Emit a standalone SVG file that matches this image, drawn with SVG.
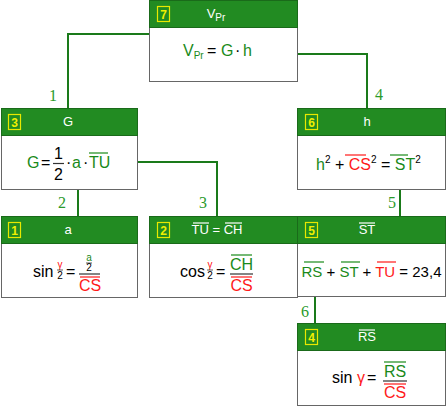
<svg xmlns="http://www.w3.org/2000/svg" width="448" height="407" viewBox="0 0 448 407">
<style>
.body{fill:#fff;stroke:#666;stroke-width:1}
.hdr{fill:#228b22;stroke:#1a6a1a;stroke-width:1}
.badge{fill:none;stroke:#e8e800;stroke-width:1.2}
.bn{font-family:"Liberation Sans",Arial,sans-serif;font-size:12px;font-weight:bold;fill:#f0f000;text-anchor:middle}
.ht{font-family:"Liberation Sans",Arial,sans-serif;font-size:13px;fill:#fff;text-anchor:middle}
.f{font-family:"Liberation Sans",Arial,sans-serif;font-size:16px;fill:#000}
.g{fill:#1a8a1a}
.r{fill:#ff1a1a}
.sm{font-size:10px}
.conn{fill:none;stroke:#1a7a1a;stroke-width:2}
.lbl{font-family:"Liberation Serif","Times New Roman",serif;font-size:16px;fill:#2a9a2a;text-anchor:middle}
.ol{stroke-width:1.2;fill:none}
.olg{stroke:#1a8a1a}
.olr{stroke:#ff1a1a}
.olw{stroke:#fff}
.bar{stroke:#333;stroke-width:1.2}
</style>
<g id="connectors">
<polyline class="conn" points="227,41 227,34 68,34 68,108"/>
<polyline class="conn" points="256,54 367,54 367,108"/>
<polyline class="conn" points="114,162 217,162 217,216"/>
<polyline class="conn" points="78,173 78,216"/>
<polyline class="conn" points="400,177 400,216"/>
<polyline class="conn" points="315,283 315,323"/>
<text class="lbl" x="53" y="101">1</text>
<text class="lbl" x="379" y="100">4</text>
<text class="lbl" x="62" y="208">2</text>
<text class="lbl" x="203" y="208">3</text>
<text class="lbl" x="392" y="208">5</text>
<text class="lbl" x="305" y="317">6</text>
</g>

<g id="node7">
<rect class="body" x="149.5" y="0.5" width="148" height="81"/>
<rect class="hdr" x="149.5" y="0.5" width="148" height="27"/>
<rect class="badge" x="157.5" y="6.5" width="12" height="15"/>
<text class="bn" x="163.5" y="18.5">7</text>
<text class="ht" x="216" y="18">V<tspan class="sm" dy="3">Pr</tspan></text>
<text class="f g" x="183" y="56">V<tspan class="sm" dy="3">Pr</tspan></text>
<text class="f" x="207" y="56">=</text>
<text class="f g" x="221" y="56">G</text>
<text class="f" x="235" y="56">·</text>
<text class="f g" x="243" y="56">h</text>
</g>

<g id="node3">
<rect class="body" x="1.5" y="108.5" width="136" height="81"/>
<rect class="hdr" x="1.5" y="108.5" width="136" height="27"/>
<rect class="badge" x="8.5" y="114.5" width="12" height="15"/>
<text class="bn" x="14.5" y="126.5">3</text>
<text class="ht" x="68" y="126">G</text>
<text class="f g" x="27" y="168">G</text>
<text class="f" x="41" y="168">=</text>
<text class="f" x="58.5" y="159" text-anchor="middle">1</text>
<line class="bar" x1="53" y1="163.5" x2="64" y2="163.5"/>
<text class="f" x="58.5" y="180" text-anchor="middle">2</text>
<text class="f" x="66" y="168">·</text>
<text class="f g" x="72" y="168">a</text>
<text class="f" x="83" y="168">·</text>
<text class="f g" x="89" y="168">TU</text>
<line class="ol olg" x1="89" y1="153" x2="108" y2="153"/>
</g>

<g id="node6">
<rect class="body" x="297.5" y="108.5" width="148" height="81"/>
<rect class="hdr" x="297.5" y="108.5" width="148" height="27"/>
<rect class="badge" x="305.5" y="114.5" width="12" height="15"/>
<text class="bn" x="311.5" y="126.5">6</text>
<text class="ht" x="367" y="126">h</text>
<text class="f" x="316" y="170"><tspan class="g">h</tspan><tspan class="sm" dy="-7">2</tspan><tspan dy="7"> + </tspan><tspan class="r">CS</tspan><tspan class="sm" dy="-7">2</tspan><tspan dy="7"> = </tspan><tspan class="g">ST</tspan><tspan class="sm" dy="-7">2</tspan></text>
<line class="ol olr" x1="345" y1="155" x2="366" y2="155"/>
<line class="ol olg" x1="390" y1="155" x2="408" y2="155"/>
</g>

<g id="node1">
<rect class="body" x="1.5" y="216.5" width="136" height="81"/>
<rect class="hdr" x="1.5" y="216.5" width="136" height="27"/>
<rect class="badge" x="8.5" y="222.5" width="12" height="15"/>
<text class="bn" x="14.5" y="234.5">1</text>
<text class="ht" x="68" y="234">a</text>
<text class="f" x="33" y="277">sin</text>
<text class="f sm r" x="60" y="268" text-anchor="middle">γ</text>
<line class="bar" x1="57" y1="270" x2="63" y2="270" style="stroke-width:0.8"/>
<text class="f sm" x="60" y="279" text-anchor="middle">2</text>
<text class="f" x="66" y="277">=</text>
<text class="f sm g" x="89" y="261" text-anchor="middle">a</text>
<line class="bar" x1="86" y1="263" x2="92" y2="263" style="stroke-width:0.8"/>
<text class="f sm" x="89" y="271" text-anchor="middle">2</text>
<line class="bar" x1="79" y1="274" x2="100" y2="274"/>
<line class="ol olr" x1="80" y1="277" x2="100" y2="277"/>
<text class="f r" x="90" y="291" text-anchor="middle">CS</text>
</g>

<g id="node2">
<rect class="body" x="149.5" y="216.5" width="148" height="81"/>
<rect class="hdr" x="149.5" y="216.5" width="148" height="27"/>
<rect class="badge" x="157.5" y="222.5" width="12" height="15"/>
<text class="bn" x="163.5" y="234.5">2</text>
<text class="ht" x="217" y="234">TU = CH</text>
<line class="ol olw" x1="193" y1="223" x2="209" y2="223"/>
<line class="ol olw" x1="225" y1="223" x2="242" y2="223"/>
<text class="f" x="180" y="277">cos</text>
<text class="f sm r" x="210" y="268" text-anchor="middle">γ</text>
<line class="bar" x1="207" y1="270" x2="213" y2="270" style="stroke-width:0.8"/>
<text class="f sm" x="210" y="279" text-anchor="middle">2</text>
<text class="f" x="216" y="277">=</text>
<line class="ol olg" x1="231" y1="255" x2="252" y2="255"/>
<text class="f g" x="241.5" y="270" text-anchor="middle">CH</text>
<line class="bar" x1="230" y1="274" x2="253" y2="274"/>
<line class="ol olr" x1="231" y1="277" x2="252" y2="277"/>
<text class="f r" x="241.5" y="291" text-anchor="middle">CS</text>
</g>

<g id="node5">
<rect class="body" x="297.5" y="216.5" width="148" height="80"/>
<rect class="hdr" x="297.5" y="216.5" width="148" height="27"/>
<rect class="badge" x="305.5" y="222.5" width="12" height="15"/>
<text class="bn" x="311.5" y="234.5">5</text>
<text class="ht" x="367" y="234">ST</text>
<line class="ol olw" x1="359" y1="223" x2="375" y2="223"/>
<text class="f" x="371.5" y="277" text-anchor="middle" style="font-size:15px"><tspan class="g">RS</tspan><tspan> + </tspan><tspan class="g">ST</tspan><tspan> + </tspan><tspan class="r">TU</tspan><tspan> = 23,4</tspan></text>
<line class="ol olg" x1="304" y1="262" x2="324" y2="262"/>
<line class="ol olg" x1="341" y1="262" x2="360" y2="262"/>
<line class="ol olr" x1="377" y1="262" x2="396" y2="262"/>
</g>

<g id="node4">
<rect class="body" x="297.5" y="323.5" width="148" height="82"/>
<rect class="hdr" x="297.5" y="323.5" width="148" height="27"/>
<rect class="badge" x="305.5" y="329.5" width="12" height="15"/>
<text class="bn" x="311.5" y="341.5">4</text>
<text class="ht" x="367" y="341">RS</text>
<line class="ol olw" x1="359" y1="330" x2="375" y2="330"/>
<text class="f" x="332" y="383">sin</text>
<text class="f r" x="357" y="383">γ</text>
<text class="f" x="367" y="383">=</text>
<line class="ol olg" x1="384" y1="362" x2="406" y2="362"/>
<text class="f g" x="395" y="377" text-anchor="middle">RS</text>
<line class="bar" x1="383" y1="381" x2="407" y2="381"/>
<line class="ol olr" x1="384" y1="384" x2="406" y2="384"/>
<text class="f r" x="395" y="398" text-anchor="middle">CS</text>
</g>
</svg>
